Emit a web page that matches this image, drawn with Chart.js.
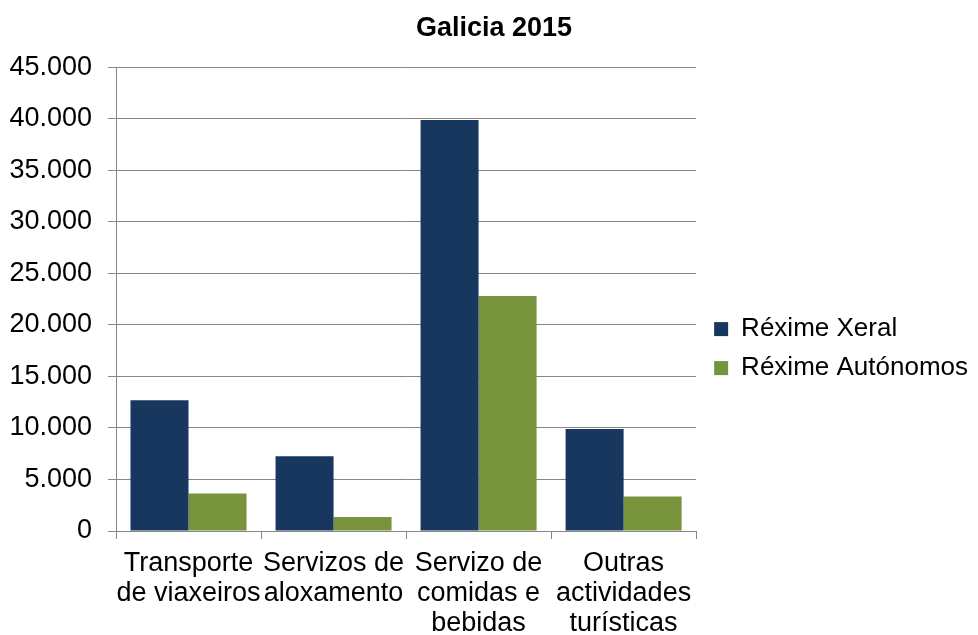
<!DOCTYPE html>
<html>
<head>
<meta charset="utf-8">
<script src="https://cdn.jsdelivr.net/npm/chart.js@4/dist/chart.umd.min.js"></script>
<style>
  html, body { margin: 0; padding: 0; background: #ffffff; }
  #wrap { width: 978px; height: 635px; }
</style>
</head>
<body>
<div id="wrap"><canvas id="c" width="978" height="635"></canvas></div>
<script>
const chartTitle = "Galicia 2015";
const categories = [
  ["Transporte", "de viaxeiros"],
  ["Servizos de", "aloxamento"],
  ["Servizo de", "comidas e", "bebidas"],
  ["Outras", "actividades", "turísticas"]
];
const seriesNames = ["Réxime Xeral", "Réxime Autónomos"];
const rexXeralValues = [12700, 7250, 39900, 9900];
const rexAutonomosValues = [3650, 1350, 22800, 3350];
const yMin = 0, yMax = 45000, yStep = 5000;

const FONT = "'Liberation Sans', Arial, sans-serif";
const GRID = "#868686";

function fmt(v) {
  return String(v).replace(/\B(?=(\d{3})+(?!\d))/g, ".");
}

new Chart(document.getElementById("c"), {
  type: "bar",
  data: {
    labels: categories,
    datasets: [
      { label: seriesNames[0], data: rexXeralValues, backgroundColor: "#17375E", borderWidth: 0 },
      { label: seriesNames[1], data: rexAutonomosValues, backgroundColor: "#77933C", borderWidth: 0 }
    ]
  },
  options: {
    responsive: false,
    animation: false,
    devicePixelRatio: 1,
    layout: { padding: { left: 10, right: 0, top: 0, bottom: 0 } },
    datasets: { bar: { categoryPercentage: 0.8, barPercentage: 1.0 } },
    plugins: {
      title: {
        display: true,
        text: chartTitle,
        color: "#000",
        font: { family: FONT, size: 27, weight: "bold", lineHeight: 1.2 },
        padding: { top: 12, bottom: 23 }
      },
      legend: {
        display: true,
        position: "right",
        align: "center",
        maxWidth: 400,
        title: { display: true, text: "", font: { family: FONT, size: 26, lineHeight: 1.2 }, padding: { top: 31, bottom: 0 } },
        labels: {
          boxWidth: 14,
          boxHeight: 14,
          padding: 13,
          color: "#000",
          font: { family: FONT, size: 26 }
        }
      },
      tooltip: { enabled: false }
    },
    scales: {
      x: {
        grid: { display: true, drawOnChartArea: false, drawTicks: true, tickLength: 8, color: GRID, offset: true },
        border: { display: true, color: GRID, width: 1 },
        ticks: {
          color: "#000",
          font: { family: FONT, size: 27, lineHeight: 1.1 },
          padding: 10,
          maxRotation: 0,
          minRotation: 0,
          autoSkip: false
        },
        afterFit: s => { s.height = 104; }
      },
      y: {
        min: yMin,
        max: yMax,
        grid: { display: true, drawTicks: true, tickLength: 8, color: GRID },
        border: { display: true, color: GRID, width: 1 },
        ticks: {
          stepSize: yStep,
          color: "#000",
          font: { family: FONT, size: 27 },
          padding: 16,
          callback: v => fmt(v)
        },
        afterFit: s => { s.width = 106; }
      },
      spacer: {
        type: "linear",
        position: "right",
        display: true,
        grid: { display: false },
        border: { display: false },
        ticks: { display: false },
        afterFit: s => { s.width = 5; }
      }
    }
  }
});
</script>
</body>
</html>
